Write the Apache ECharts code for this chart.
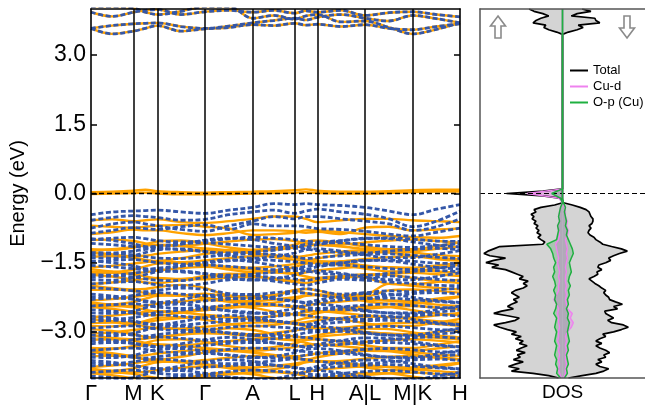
<!DOCTYPE html>
<html><head><meta charset="utf-8">
<script src="https://cdn.jsdelivr.net/npm/echarts@6/dist/echarts.min.js"></script>
<style>html,body{margin:0;padding:0;background:#fff}#c{width:645px;height:407px}</style>
</head><body><div id="c"></div>
<script>
// ---------- band structure path ----------
const kPath = [0, 21, 42.5, 54.4, 66.3, 90, 114, 138, 161.7, 182.7, 203.7, 215, 226.3, 250, 274, 298, 321.7, 345.5, 369];
const kHighSym = [0, 42.5, 66.3, 114, 161.7, 203.7, 226.3, 274, 321.7, 369];
const kLabels = ['Γ', 'M', 'K', 'Γ', 'A', 'L', 'H', 'A|L', 'M|K', 'H'];
const yTicks = [-3, -1.5, 0, 1.5, 3];

// conduction bands (both spins coincide)
const condBands = [
  [3.93,3.84,3.93,3.97,3.99,3.88,3.94,3.97,3.93,3.97,3.91,3.96,3.93,3.97,3.86,3.92,3.94,3.88,3.83],
  [3.58,3.64,3.68,3.69,3.70,3.62,3.58,3.63,3.70,3.75,3.80,3.76,3.82,3.88,3.80,3.74,3.86,3.79,3.70],
  [3.58,3.46,3.52,3.58,3.64,3.52,3.57,3.60,3.66,3.64,3.69,3.65,3.67,3.62,3.66,3.58,3.55,3.62,3.68],
  [4.05,4.05,4.02,3.93,3.88,3.95,4.05,4.05,3.80,3.86,3.78,3.85,3.88,3.72,3.74,3.60,3.46,3.56,3.70]
];
// spin-up bands at the Fermi level
const fermiBandsUp = [
  [0.03,0.04,0.06,0.08,0.05,0.03,0.02,0.03,0.04,0.05,0.07,0.09,0.06,0.04,0.04,0.05,0.07,0.08,0.08],
  [-0.01,0.00,0.01,0.02,0.00,-0.02,-0.02,-0.01,0.00,0.01,0.02,0.03,0.01,0.00,0.00,0.01,0.03,0.04,0.04]
];
// upper valence bands
const topValUp = [
  [-0.58,-0.56,-0.60,-0.58,-0.56,-0.62,-0.64,-0.60,-0.55,-0.50,-0.50,-0.55,-0.62,-0.58,-0.55,-0.55,-0.58,-0.60,-0.62],
  [-0.88,-0.84,-0.78,-0.80,-0.80,-0.86,-0.90,-0.86,-0.80,-0.80,-0.82,-0.85,-0.83,-0.88,-0.74,-0.72,-0.80,-0.78,-0.76],
  [-0.70,-0.72,-0.74,-0.72,-0.70,-0.68,-0.72,-0.76,-0.90,-0.88,-0.85,-0.80,-0.80,-0.84,-0.88,-0.92,-0.95,-0.96,-0.92]
];
const topValDown = [
  [-0.46,-0.40,-0.38,-0.37,-0.36,-0.40,-0.43,-0.36,-0.30,-0.22,-0.24,-0.22,-0.24,-0.26,-0.30,-0.38,-0.46,-0.34,-0.24],
  [-0.58,-0.52,-0.48,-0.50,-0.52,-0.58,-0.56,-0.46,-0.40,-0.36,-0.43,-0.38,-0.34,-0.40,-0.45,-0.55,-0.72,-0.60,-0.38],
  [-0.75,-0.66,-0.62,-0.66,-0.70,-0.78,-0.82,-0.70,-0.60,-0.50,-0.55,-0.50,-0.50,-0.55,-0.60,-0.66,-0.80,-0.72,-0.55],
  [-0.86,-0.80,-0.74,-0.76,-0.78,-0.72,-0.68,-0.78,-0.66,-0.70,-0.70,-0.72,-0.76,-0.78,-0.82,-0.88,-0.92,-0.84,-0.75]
];
// dense valence manifold, spin up (orange)
const denseUp = [
  [-1.01,-1.00,-1.03,-1.08,-1.12,-1.13,-1.09,-1.04,-1.00,-0.99,-1.03,-1.08,-1.12,-1.11,-1.06,-1.02,-1.00,-1.03,-1.07],
  [-1.21,-1.22,-1.17,-1.10,-1.04,-1.02,-1.08,-1.17,-1.22,-1.19,-1.11,-1.04,-1.02,-1.07,-1.15,-1.21,-1.21,-1.14,-1.06],
  [-1.24,-1.21,-1.16,-1.13,-1.11,-1.14,-1.19,-1.23,-1.25,-1.22,-1.17,-1.13,-1.11,-1.15,-1.20,-1.24,-1.25,-1.20,-1.15],
  [-1.28,-1.33,-1.36,-1.35,-1.31,-1.26,-1.23,-1.25,-1.29,-1.34,-1.37,-1.35,-1.31,-1.26,-1.23,-1.24,-1.28,-1.33,-1.36],
  [-1.28,-1.32,-1.39,-1.45,-1.46,-1.40,-1.31,-1.26,-1.30,-1.38,-1.44,-1.46,-1.41,-1.33,-1.27,-1.28,-1.35,-1.42,-1.46],
  [-1.37,-1.36,-1.39,-1.44,-1.48,-1.49,-1.45,-1.40,-1.36,-1.35,-1.39,-1.44,-1.48,-1.47,-1.42,-1.38,-1.36,-1.39,-1.43],
  [-1.60,-1.57,-1.52,-1.49,-1.47,-1.50,-1.55,-1.59,-1.61,-1.58,-1.53,-1.49,-1.47,-1.51,-1.56,-1.60,-1.61,-1.56,-1.51],
  [-1.69,-1.70,-1.65,-1.58,-1.52,-1.50,-1.56,-1.65,-1.70,-1.67,-1.59,-1.52,-1.50,-1.55,-1.63,-1.69,-1.69,-1.62,-1.54],
  [-1.64,-1.69,-1.72,-1.71,-1.67,-1.62,-1.59,-1.61,-1.65,-1.70,-1.73,-1.71,-1.67,-1.62,-1.59,-1.60,-1.64,-1.69,-1.72],
  [-1.73,-1.72,-1.75,-1.80,-1.84,-1.85,-1.81,-1.76,-1.72,-1.71,-1.75,-1.80,-1.84,-1.83,-1.78,-1.74,-1.72,-1.75,-1.79],
  [-1.76,-1.80,-1.87,-1.93,-1.94,-1.88,-1.79,-1.74,-1.78,-1.86,-1.92,-1.94,-1.89,-1.81,-1.75,-1.76,-1.83,-1.90,-1.94],
  [-1.96,-1.93,-1.88,-1.85,-1.83,-1.86,-1.86,-1.82,-1.81,-1.84,-1.89,-1.85,-1.83,-1.80,-1.82,-1.96,-1.97,-1.92,-1.87],
  [-2.00,-2.05,-2.08,-2.07,-2.03,-1.98,-2.05,-2.21,-2.23,-2.20,-2.09,-2.07,-2.10,-2.20,-2.19,-1.96,-2.00,-2.05,-2.08],
  [-2.09,-2.08,-2.11,-2.16,-2.20,-2.21,-2.17,-2.24,-2.26,-2.23,-2.11,-2.16,-2.20,-2.25,-2.24,-2.10,-2.08,-2.11,-2.15],
  [-2.32,-2.29,-2.24,-2.21,-2.19,-2.22,-2.27,-2.31,-2.33,-2.30,-2.25,-2.21,-2.19,-2.23,-2.28,-2.32,-2.33,-2.28,-2.23],
  [-2.39,-2.40,-2.35,-2.28,-2.22,-2.20,-2.26,-2.35,-2.40,-2.37,-2.29,-2.22,-2.20,-2.25,-2.33,-2.39,-2.39,-2.32,-2.24],
  [-2.36,-2.41,-2.44,-2.43,-2.39,-2.34,-2.31,-2.33,-2.37,-2.42,-2.45,-2.43,-2.39,-2.34,-2.31,-2.32,-2.36,-2.41,-2.44],
  [-2.45,-2.44,-2.47,-2.52,-2.56,-2.57,-2.53,-2.48,-2.44,-2.43,-2.47,-2.52,-2.56,-2.55,-2.50,-2.46,-2.44,-2.47,-2.51],
  [-2.46,-2.50,-2.57,-2.63,-2.64,-2.58,-2.49,-2.44,-2.48,-2.56,-2.62,-2.64,-2.59,-2.51,-2.45,-2.46,-2.53,-2.60,-2.64],
  [-2.68,-2.65,-2.60,-2.57,-2.55,-2.58,-2.63,-2.67,-2.69,-2.66,-2.61,-2.57,-2.55,-2.59,-2.64,-2.68,-2.69,-2.64,-2.59],
  [-2.72,-2.77,-2.80,-2.79,-2.75,-2.70,-2.67,-2.69,-2.73,-2.78,-2.81,-2.79,-2.75,-2.70,-2.67,-2.68,-2.72,-2.77,-2.80],
  [-2.87,-2.88,-2.83,-2.76,-2.70,-2.68,-2.74,-2.83,-2.88,-2.85,-2.77,-2.70,-2.68,-2.73,-2.81,-2.87,-2.87,-2.80,-2.72],
  [-2.81,-2.80,-2.83,-2.88,-2.92,-2.93,-2.89,-2.84,-2.80,-2.79,-2.83,-2.88,-2.92,-2.91,-2.86,-2.82,-2.80,-2.83,-2.87],
  [-3.04,-3.01,-2.96,-2.93,-2.91,-2.94,-2.99,-3.03,-3.05,-3.02,-2.97,-2.93,-2.91,-2.95,-3.00,-3.04,-3.05,-3.00,-2.95],
  [-2.94,-2.98,-3.05,-3.11,-3.12,-3.06,-2.97,-2.92,-2.96,-3.04,-3.10,-3.12,-3.07,-2.99,-2.93,-2.94,-3.01,-3.08,-3.12],
  [-3.08,-3.13,-3.16,-3.15,-3.11,-3.06,-3.03,-3.05,-3.09,-3.14,-3.17,-3.15,-3.11,-3.06,-3.03,-3.04,-3.08,-3.13,-3.16],
  [-3.17,-3.16,-3.19,-3.24,-3.28,-3.29,-3.25,-3.20,-3.16,-3.15,-3.19,-3.24,-3.28,-3.27,-3.22,-3.18,-3.16,-3.19,-3.23],
  [-3.35,-3.36,-3.31,-3.24,-3.18,-3.16,-3.22,-3.31,-3.36,-3.33,-3.25,-3.18,-3.16,-3.21,-3.29,-3.35,-3.35,-3.28,-3.20],
  [-3.40,-3.37,-3.32,-3.29,-3.27,-3.30,-3.35,-3.39,-3.41,-3.38,-3.33,-3.29,-3.27,-3.31,-3.36,-3.40,-3.41,-3.36,-3.31],
  [-3.44,-3.49,-3.52,-3.51,-3.47,-3.42,-3.39,-3.41,-3.45,-3.50,-3.53,-3.51,-3.47,-3.42,-3.39,-3.40,-3.44,-3.49,-3.52],
  [-3.42,-3.46,-3.53,-3.59,-3.60,-3.54,-3.45,-3.40,-3.44,-3.52,-3.58,-3.60,-3.55,-3.47,-3.41,-3.42,-3.49,-3.56,-3.60],
  [-3.53,-3.52,-3.55,-3.60,-3.64,-3.65,-3.61,-3.56,-3.52,-3.51,-3.55,-3.60,-3.64,-3.63,-3.58,-3.54,-3.52,-3.55,-3.59],
  [-3.76,-3.73,-3.68,-3.65,-3.63,-3.66,-3.71,-3.75,-3.77,-3.74,-3.69,-3.65,-3.63,-3.67,-3.72,-3.76,-3.77,-3.72,-3.67],
  [-3.83,-3.84,-3.79,-3.72,-3.66,-3.64,-3.70,-3.79,-3.84,-3.81,-3.73,-3.66,-3.64,-3.69,-3.77,-3.83,-3.83,-3.76,-3.68],
  [-3.80,-3.85,-3.88,-3.87,-3.83,-3.78,-3.75,-3.77,-3.81,-3.86,-3.89,-3.87,-3.83,-3.78,-3.75,-3.76,-3.80,-3.85,-3.88],
  [-3.89,-3.88,-3.91,-3.96,-4.00,-4.01,-3.97,-3.92,-3.88,-3.87,-3.91,-3.96,-4.00,-3.99,-3.94,-3.90,-3.88,-3.91,-3.95],
  [-3.90,-3.94,-4.01,-4.07,-4.08,-4.02,-3.93,-3.88,-3.92,-4.00,-4.06,-4.08,-4.03,-3.95,-3.89,-3.90,-3.97,-4.04,-4.08]
];
// dense valence manifold, spin down (blue dashed)
const denseDown = [
  [-1.00,-0.97,-0.95,-0.98,-1.02,-1.05,-1.03,-0.98,-0.95,-0.97,-1.00,-1.03,-1.05,-1.02,-0.98,-0.96,-0.99,-1.03,-1.04],
  [-0.98,-1.02,-1.09,-1.15,-1.16,-1.10,-1.01,-0.97,-1.00,-1.08,-1.14,-1.16,-1.11,-1.03,-0.97,-0.98,-1.05,-1.12,-1.16],
  [-1.08,-1.11,-1.15,-1.17,-1.14,-1.09,-1.07,-1.10,-1.14,-1.17,-1.15,-1.10,-1.08,-1.07,-1.11,-1.15,-1.17,-1.13,-1.09],
  [-1.28,-1.29,-1.25,-1.21,-1.19,-1.22,-1.26,-1.29,-1.27,-1.23,-1.19,-1.20,-1.24,-1.28,-1.29,-1.25,-1.21,-1.19,-1.22],
  [-1.39,-1.40,-1.35,-1.28,-1.22,-1.20,-1.26,-1.35,-1.40,-1.37,-1.29,-1.22,-1.20,-1.25,-1.33,-1.39,-1.39,-1.32,-1.24],
  [-1.34,-1.31,-1.33,-1.37,-1.40,-1.41,-1.37,-1.33,-1.31,-1.32,-1.37,-1.41,-1.39,-1.35,-1.32,-1.31,-1.34,-1.38,-1.41],
  [-1.48,-1.45,-1.43,-1.46,-1.50,-1.53,-1.51,-1.46,-1.43,-1.45,-1.48,-1.51,-1.53,-1.50,-1.46,-1.44,-1.47,-1.51,-1.52],
  [-1.46,-1.50,-1.57,-1.63,-1.64,-1.58,-1.49,-1.44,-1.48,-1.56,-1.62,-1.64,-1.59,-1.51,-1.45,-1.46,-1.53,-1.60,-1.64],
  [-1.56,-1.59,-1.63,-1.65,-1.62,-1.57,-1.55,-1.58,-1.62,-1.65,-1.63,-1.58,-1.56,-1.55,-1.59,-1.63,-1.65,-1.61,-1.57],
  [-1.76,-1.77,-1.73,-1.69,-1.67,-1.70,-1.74,-1.77,-1.75,-1.71,-1.67,-1.68,-1.72,-1.76,-1.77,-1.73,-1.69,-1.67,-1.70],
  [-1.87,-1.88,-1.83,-1.76,-1.70,-1.68,-1.74,-1.83,-1.88,-1.85,-1.77,-1.70,-1.68,-1.73,-1.81,-1.87,-1.87,-1.80,-1.72],
  [-1.82,-1.79,-1.81,-1.85,-1.88,-1.89,-1.82,-1.80,-1.79,-1.82,-1.85,-1.89,-1.84,-1.82,-1.84,-1.79,-1.82,-1.86,-1.89],
  [-1.96,-1.93,-1.91,-1.94,-1.98,-2.00,-1.95,-1.87,-1.86,-1.90,-1.96,-1.99,-1.94,-1.86,-1.88,-1.92,-1.95,-1.99,-2.00],
  [-2.04,-2.07,-2.11,-2.13,-2.10,-2.05,-2.08,-2.17,-2.19,-2.15,-2.11,-2.06,-2.10,-2.18,-2.15,-2.11,-2.13,-2.09,-2.05],
  [-2.18,-2.22,-2.29,-2.35,-2.36,-2.30,-2.21,-2.20,-2.20,-2.28,-2.34,-2.36,-2.31,-2.23,-2.17,-2.18,-2.25,-2.32,-2.36],
  [-2.24,-2.25,-2.21,-2.17,-2.15,-2.18,-2.22,-2.27,-2.28,-2.24,-2.15,-2.16,-2.20,-2.26,-2.27,-2.21,-2.17,-2.15,-2.18],
  [-2.30,-2.27,-2.29,-2.33,-2.36,-2.37,-2.33,-2.29,-2.27,-2.28,-2.33,-2.37,-2.35,-2.31,-2.28,-2.27,-2.30,-2.34,-2.37],
  [-2.44,-2.41,-2.39,-2.42,-2.46,-2.49,-2.47,-2.42,-2.39,-2.41,-2.44,-2.47,-2.49,-2.46,-2.42,-2.40,-2.43,-2.47,-2.48],
  [-2.59,-2.60,-2.55,-2.48,-2.42,-2.40,-2.46,-2.55,-2.60,-2.57,-2.49,-2.42,-2.40,-2.45,-2.53,-2.59,-2.59,-2.52,-2.44],
  [-2.52,-2.55,-2.59,-2.61,-2.58,-2.53,-2.51,-2.54,-2.58,-2.61,-2.59,-2.54,-2.52,-2.51,-2.55,-2.59,-2.61,-2.57,-2.53],
  [-2.72,-2.73,-2.69,-2.65,-2.63,-2.66,-2.70,-2.73,-2.71,-2.67,-2.63,-2.64,-2.68,-2.72,-2.73,-2.69,-2.65,-2.63,-2.66],
  [-2.66,-2.70,-2.77,-2.83,-2.84,-2.78,-2.69,-2.64,-2.68,-2.76,-2.82,-2.84,-2.79,-2.71,-2.65,-2.66,-2.73,-2.80,-2.84],
  [-2.78,-2.75,-2.77,-2.81,-2.84,-2.85,-2.81,-2.77,-2.75,-2.76,-2.81,-2.85,-2.83,-2.79,-2.76,-2.75,-2.78,-2.82,-2.85],
  [-2.92,-2.89,-2.87,-2.90,-2.94,-2.97,-2.95,-2.90,-2.87,-2.89,-2.92,-2.95,-2.97,-2.94,-2.90,-2.88,-2.91,-2.95,-2.96],
  [-3.07,-3.08,-3.03,-2.96,-2.90,-2.88,-2.94,-3.03,-3.08,-3.05,-2.97,-2.90,-2.88,-2.93,-3.01,-3.07,-3.07,-3.00,-2.92],
  [-3.00,-3.03,-3.07,-3.09,-3.06,-3.01,-2.99,-3.02,-3.06,-3.09,-3.07,-3.02,-3.00,-2.99,-3.03,-3.07,-3.09,-3.05,-3.01],
  [-3.20,-3.21,-3.17,-3.13,-3.11,-3.14,-3.18,-3.21,-3.19,-3.15,-3.11,-3.12,-3.16,-3.20,-3.21,-3.17,-3.13,-3.11,-3.14],
  [-3.14,-3.18,-3.25,-3.31,-3.32,-3.26,-3.17,-3.12,-3.16,-3.24,-3.30,-3.32,-3.27,-3.19,-3.13,-3.14,-3.21,-3.28,-3.32],
  [-3.26,-3.23,-3.25,-3.29,-3.32,-3.33,-3.29,-3.25,-3.23,-3.24,-3.29,-3.33,-3.31,-3.27,-3.24,-3.23,-3.26,-3.30,-3.33],
  [-3.40,-3.37,-3.35,-3.38,-3.42,-3.45,-3.43,-3.38,-3.35,-3.37,-3.40,-3.43,-3.45,-3.42,-3.38,-3.36,-3.39,-3.43,-3.44],
  [-3.55,-3.56,-3.51,-3.44,-3.38,-3.36,-3.42,-3.51,-3.56,-3.53,-3.45,-3.38,-3.36,-3.41,-3.49,-3.55,-3.55,-3.48,-3.40],
  [-3.48,-3.51,-3.55,-3.57,-3.54,-3.49,-3.47,-3.50,-3.54,-3.57,-3.55,-3.50,-3.48,-3.47,-3.51,-3.55,-3.57,-3.53,-3.49],
  [-3.68,-3.69,-3.65,-3.61,-3.59,-3.62,-3.66,-3.69,-3.67,-3.63,-3.59,-3.60,-3.64,-3.68,-3.69,-3.65,-3.61,-3.59,-3.62],
  [-3.62,-3.66,-3.73,-3.79,-3.80,-3.74,-3.65,-3.60,-3.64,-3.72,-3.78,-3.80,-3.75,-3.67,-3.61,-3.62,-3.69,-3.76,-3.80],
  [-3.74,-3.71,-3.73,-3.77,-3.80,-3.81,-3.77,-3.73,-3.71,-3.72,-3.77,-3.81,-3.79,-3.75,-3.72,-3.71,-3.74,-3.78,-3.81],
  [-3.88,-3.85,-3.83,-3.86,-3.90,-3.93,-3.91,-3.86,-3.83,-3.85,-3.88,-3.91,-3.93,-3.90,-3.86,-3.84,-3.87,-3.91,-3.92],
  [-4.03,-4.04,-3.99,-3.92,-3.86,-3.84,-3.90,-3.99,-4.04,-4.01,-3.93,-3.86,-3.84,-3.89,-3.97,-4.03,-4.03,-3.96,-3.88],
  [-3.96,-3.99,-4.03,-4.05,-4.02,-3.97,-3.95,-3.98,-4.02,-4.05,-4.03,-3.98,-3.96,-3.95,-3.99,-4.03,-4.05,-4.01,-3.97]
];

// ---------- DOS ----------
const dosE = [-4.00,-3.95,-3.90,-3.85,-3.80,-3.75,-3.70,-3.65,-3.60,-3.55,-3.50,-3.45,-3.40,-3.35,-3.30,-3.25,-3.20,-3.15,-3.10,-3.05,
  -3.00,-2.95,-2.90,-2.85,-2.80,-2.75,-2.70,-2.65,-2.60,-2.55,-2.50,-2.45,-2.40,-2.35,-2.30,-2.25,-2.20,-2.15,-2.10,-2.05,
  -2.00,-1.95,-1.90,-1.85,-1.80,-1.75,-1.70,-1.65,-1.60,-1.55,-1.50,-1.45,-1.40,-1.35,-1.30,-1.25,-1.20,-1.15,-1.10,-1.05,
  -1.00,-0.95,-0.90,-0.85,-0.80,-0.75,-0.70,-0.65,-0.60,-0.55,-0.50,-0.45,-0.40,-0.35,-0.30,-0.25,-0.20,-0.15,-0.10,-0.05,
  0.00,0.05,0.10,0.15];
const dosTotUp = [-4,-14,-30,-52,-44,-55,-48,-40,-50,-43,-46,-38,-47,-42,-36,-44,-40,-48,-42,-52,
  -47,-56,-64,-70,-58,-48,-44,-56,-70,-62,-50,-56,-52,-46,-50,-44,-48,-52,-48,-40,
  -36,-40,-35,-44,-40,-46,-52,-58,-72,-65,-78,-70,-58,-74,-80,-76,-70,-64,-20,-18,
  -22,-25,-22,-26,-24,-27,-25,-29,-27,-31,-29,-32,-27,-29,-22,-8,0,0,-3,-20,
  -57,-20,0,0];
const dosTotDown = [6,20,34,42,47,38,34,40,36,44,42,48,44,38,34,40,34,38,44,41,
  52,60,67,62,50,46,52,48,44,43,56,52,61,54,48,47,44,42,44,40,
  37,33,30,27,32,36,35,40,36,37,44,49,47,52,58,66,60,50,41,38,
  34,32,28,26,27,29,27,30,31,31,29,28,27,24,18,10,1,0,0,0,
  0,0,0,0];
const dosCondE = [3.45,3.50,3.55,3.60,3.65,3.70,3.75,3.80,3.85,3.90,3.95,4.00];
const dosCondUp = [0,-6,-14,-19,-17,-30,-27,-22,-14,-20,-29,-34];
const dosCondDown = [0,6,15,21,16,38,34,33,9,15,29,20];
const pdosE = [-4.0,-3.9,-3.8,-3.7,-3.6,-3.5,-3.4,-3.3,-3.2,-3.1,-3.0,-2.9,-2.8,-2.7,-2.6,-2.5,-2.4,-2.3,-2.2,-2.1,
  -2.0,-1.9,-1.8,-1.7,-1.6,-1.5,-1.4,-1.3,-1.2,-1.1,-1.0,-0.9,-0.8,-0.7,-0.6,-0.5,-0.4,-0.3,-0.2,-0.1,0.0,0.1,4.0];
const cuDUp = [-1,-3,-4,-3,-4,-3,-4,-3,-5,-4,-4,-3,-4,-4,-5,-4,-6,-9,-6,-4,
  -4,-3,-4,-3,-4,-5,-4,-5,-6,-7,-4,-3,-4,-5,-3,-4,-3,-2,0,-4,-36,0,0];
const cuDDown = [1,3,3,4,3,3,4,3,4,3,5,9,11,8,10,5,4,3,4,3,
  4,3,3,4,3,4,5,4,5,4,3,5,6,4,5,3,3,2,0,0,0,0,0];
const oPUp = [-2,-6,-5,-7,-6,-8,-7,-6,-8,-7,-6,-8,-7,-6,-9,-7,-6,-8,-7,-9,
  -7,-8,-10,-8,-9,-7,-9,-10,-12,-16,-6,-5,-4,-5,-3,-4,-3,-2,0,-2,-11,0,0];
const oPDown = [2,5,4,6,5,4,6,5,7,6,5,6,7,5,6,4,6,5,7,6,
  8,6,7,9,8,7,9,11,10,8,6,4,5,3,4,3,2,3,1,0,0,0,0];
const legendNames = ['Total', 'Cu-d', 'O-p (Cu)'];

// ---------- build ----------
const FONT = '"Liberation Sans", Arial, Helvetica, sans-serif';
const ORANGE = '#ffa200', BLUE = '#3457a8', PINK = '#ee82ee', GREEN = '#1fb040';
const series = [];
function bandSeries(vals, up) {
  return {
    type: 'line', xAxisIndex: 0, yAxisIndex: 0,
    data: kPath.map((k, i) => [k, vals[i]]),
    smooth: 0.35, symbol: 'none', silent: true, animation: false, z: up ? 2 : 3,
    lineStyle: up ? { color: ORANGE, width: 2.4 } : { color: BLUE, width: 2.8, type: [5, 2.5] }
  };
}
condBands.forEach(b => series.push(bandSeries(b, true)));
topValUp.forEach(b => series.push(bandSeries(b, true)));
denseUp.forEach(b => series.push(bandSeries(b, true)));
condBands.forEach(b => series.push(bandSeries(b, false)));
topValDown.forEach(b => series.push(bandSeries(b, false)));
denseDown.forEach(b => series.push(bandSeries(b, false)));
fermiBandsUp.forEach((b, i) => {
  const s = bandSeries(b, true);
  s.z = 4;
  if (i === 0) {
    s.markLine = {
      silent: true, symbol: ['none', 'none'], label: { show: false }, animation: false,
      data: kHighSym.slice(1, -1).map(k => ({ xAxis: k, lineStyle: { color: '#000', width: 1.5, type: 'solid' } }))
        .concat([{ yAxis: 0, lineStyle: { color: '#000', width: 1.3, type: [5, 3] } }])
    };
  }
  series.push(s);
});

function poly(xs, es, xs2, es2) {
  let pts = es.map((e, i) => [xs[i], e]);
  if (xs2) pts = pts.concat(es2.map((e, i) => [xs2[i], e]));
  return pts;
}
function closePoly(pts) {
  return pts.concat([[0, pts[pts.length - 1][1]], [0, pts[0][1]]]);
}
function fillSeries(pts, fill, z) {
  const closed = closePoly(pts);
  return {
    type: 'custom', coordinateSystem: 'cartesian2d', xAxisIndex: 1, yAxisIndex: 2,
    data: [[0, 0]], silent: true, animation: false, z: z, clip: true,
    renderItem: (p, api) => ({
      type: 'polygon', shape: { points: closed.map(q => api.coord(q)) },
      style: { fill: fill, stroke: null }
    })
  };
}
function dosLine(name, pts, color, w, z) {
  return {
    name: name, type: 'line', xAxisIndex: 1, yAxisIndex: 2, data: pts, symbol: 'none',
    silent: true, animation: false, z: z, color: color,
    itemStyle: { color: color }, lineStyle: { color: color, width: w }
  };
}
const totUpPts = poly(dosTotUp, dosE, dosCondUp, dosCondE);
const totDnPts = poly(dosTotDown, dosE, dosCondDown, dosCondE);
const cuUpPts = poly(cuDUp, pdosE), cuDnPts = poly(cuDDown, pdosE);
const opUpPts = poly(oPUp, pdosE), opDnPts = poly(oPDown, pdosE);
series.push(fillSeries(totUpPts, '#d4d4d4', 1));
series.push(fillSeries(totDnPts, '#d4d4d4', 1));
series.push(fillSeries(cuUpPts, 'rgba(238,130,238,0.45)', 2));
series.push(fillSeries(cuDnPts, 'rgba(238,130,238,0.45)', 2));
series.push(fillSeries(opUpPts, 'rgba(40,150,70,0.25)', 2));
series.push(fillSeries(opDnPts, 'rgba(40,150,70,0.25)', 2));
series.push(dosLine(legendNames[0], totUpPts, '#000', 1.7, 3));
series.push(dosLine(legendNames[0], totDnPts, '#000', 1.7, 3));
series.push(dosLine(legendNames[1], cuUpPts, PINK, 1.4, 4));
series.push(dosLine(legendNames[1], cuDnPts, PINK, 1.4, 4));
const opLineUp = dosLine(legendNames[2], opUpPts, GREEN, 1.5, 5);
opLineUp.markLine = {
  silent: true, symbol: ['none', 'none'], label: { show: false }, animation: false,
  data: [{ yAxis: 0, lineStyle: { color: '#000', width: 1.2, type: [5, 3] } }]
};
series.push(opLineUp);
series.push(dosLine(legendNames[2], opDnPts, GREEN, 1.5, 5));

const frameBand = { show: true, onZero: false, lineStyle: { color: '#000', width: 1.6 } };
const frameDos = { show: true, onZero: false, lineStyle: { color: '#555', width: 1.5 } };
const none = { show: false };
const option = {
  backgroundColor: '#fff',
  animation: false,
  grid: [
    { left: 91, right: 185, top: 9, bottom: 29 },
    { left: 480, right: -3, top: 9, bottom: 29 }
  ],
  xAxis: [
    { type: 'value', gridIndex: 0, min: 0, max: 369, position: 'bottom', z: 10,
      axisLine: frameBand, splitLine: none, axisTick: none,
      axisLabel: { show: true, customValues: kHighSym, margin: 5, fontSize: 22, fontFamily: FONT, color: '#000',
        showMinLabel: true, showMaxLabel: true, hideOverlap: false,
        formatter: v => { const i = kHighSym.indexOf(v); return i >= 0 ? kLabels[i] : ''; } } },
    { type: 'value', gridIndex: 1, min: -84, max: 84, position: 'bottom', z: 10,
      axisLine: frameDos, splitLine: none, axisTick: none, axisLabel: none,
      name: 'DOS', nameLocation: 'middle', nameGap: 5,
      nameTextStyle: { fontSize: 19, fontFamily: FONT, color: '#000', verticalAlign: 'top' } },
    { type: 'value', gridIndex: 0, min: 0, max: 369, position: 'top', z: 10,
      axisLine: frameBand, splitLine: none, axisTick: none, axisLabel: none },
    { type: 'value', gridIndex: 1, min: -84, max: 84, position: 'top', z: 10,
      axisLine: frameDos, splitLine: none, axisTick: none, axisLabel: none }
  ],
  yAxis: [
    { type: 'value', gridIndex: 0, min: -4, max: 4, position: 'left', z: 10,
      axisLine: frameBand, splitLine: none,
      axisTick: { show: true, inside: true, length: 6, customValues: yTicks, lineStyle: { color: '#000', width: 1.5 } },
      axisLabel: { show: true, customValues: yTicks, margin: 5, fontSize: 23, fontFamily: FONT, color: '#000',
        formatter: v => (v < 0 ? '\u2212' : '') + Math.abs(v).toFixed(1) },
      name: 'Energy (eV)', nameLocation: 'middle', nameRotate: 90, nameGap: 63,
      nameTextStyle: { fontSize: 20, fontFamily: FONT, color: '#000' } },
    { type: 'value', gridIndex: 0, min: -4, max: 4, position: 'right', z: 10,
      axisLine: frameBand, splitLine: none, axisLabel: none,
      axisTick: { show: true, inside: true, length: 6, customValues: yTicks, lineStyle: { color: '#000', width: 1.5 } } },
    { type: 'value', gridIndex: 1, min: -4, max: 4, position: 'left', z: 10,
      axisLine: frameDos, splitLine: none, axisTick: none, axisLabel: none },
    { type: 'value', gridIndex: 1, min: -4, max: 4, position: 'right', z: 10,
      axisLine: none, splitLine: none, axisTick: none, axisLabel: none }
  ],
  legend: {
    data: legendNames, orient: 'vertical', left: 570, top: 64, padding: 0,
    itemWidth: 18, itemHeight: 2, itemGap: 3, icon: 'rect', selectedMode: false,
    textStyle: { fontSize: 13, lineHeight: 13, fontFamily: FONT, color: '#000' }
  },
  graphic: [
    { type: 'polygon', z: 20, silent: true,
      shape: { points: [[498, 16], [505.5, 26], [501, 26], [501, 38], [495, 38], [495, 26], [490.5, 26]] },
      style: { fill: '#fff', stroke: '#8a8a8a', lineWidth: 1.6 } },
    { type: 'polygon', z: 20, silent: true,
      shape: { points: [[627, 38], [634.5, 28], [630, 28], [630, 16], [624, 16], [624, 28], [619.5, 28]] },
      style: { fill: '#fff', stroke: '#8a8a8a', lineWidth: 1.6 } }
  ],
  series: series
};
const chart = echarts.init(document.getElementById('c'), null, { renderer: 'canvas' });
chart.setOption(option);
</script>
</body></html>
